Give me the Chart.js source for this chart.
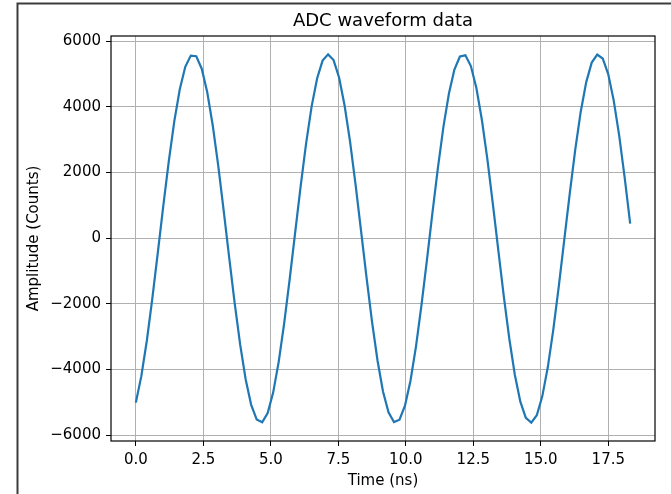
<!DOCTYPE html>
<html>
<head>
<meta charset="utf-8">
<script src="https://cdn.jsdelivr.net/npm/chart.js@4.4.0/dist/chart.umd.min.js"></script>
<style>
  html, body { margin: 0; padding: 0; background: #fff; }
</style>
</head>
<body>
<canvas id="adcChart" width="671" height="494"></canvas>
<script>
// sample times (ns) and ADC counts
const timeNs = [
  0, 0.203, 0.407, 0.610, 0.814, 1.017, 1.221, 1.424, 1.628, 1.831,
  2.035, 2.238, 2.441, 2.645, 2.848, 3.052, 3.255, 3.459, 3.662, 3.866,
  4.069, 4.272, 4.476, 4.679, 4.883, 5.086, 5.290, 5.493, 5.697, 5.900,
  6.104, 6.307, 6.510, 6.714, 6.917, 7.121, 7.324, 7.528, 7.731, 7.935,
  8.138, 8.341, 8.545, 8.748, 8.952, 9.155, 9.359, 9.562, 9.766, 9.969,
  10.173, 10.376, 10.579, 10.783, 10.986, 11.190, 11.393, 11.597, 11.800, 12.004,
  12.207, 12.410, 12.614, 12.817, 13.021, 13.224, 13.428, 13.631, 13.835, 14.038,
  14.242, 14.445, 14.648, 14.852, 15.055, 15.259, 15.462, 15.666, 15.869, 16.073,
  16.276, 16.479, 16.683, 16.886, 17.090, 17.293, 17.497, 17.700, 17.904, 18.107,
  18.311
]
const amplitude = [
  -5010, -4204, -3125, -1844, -443, 985, 2349, 3560, 4538, 5221,
  5563, 5544, 5163, 4446, 3440, 2209, 834, -597, -1988, -3252,
  -4304, -5078, -5521, -5607, -5329, -4705, -3776, -2602, -1259, 165,
  1577, 2886, 4007, 4867, 5410, 5600, 5426, 4898, 4051, 2940,
  1638, 228, -1197, -2545, -3728, -4670, -5308, -5602, -5533, -5104,
  -4345, -3303, -2048, -660, 771, 2150, 3390, 4408, 5138, 5535,
  5570, 5243, 4575, 3608, 2406, 1047, -380, -1784, -3072, -4161,
  -4981, -5477, -5618, -5394, -4820, -3934, -2792, -1470, -52, 1368,
  2698, 3853, 4756, 5350, 5595, 5475, 4999, 4198, 3123, 1844,
  445
]
const xTicks = [0, 2.5, 5, 7.5, 10, 12.5, 15, 17.5]
const yTicks = [-6000, -4000, -2000, 0, 2000, 4000, 6000]

const fontFamily = "'DejaVu Sans', sans-serif"

// rahmen + achsenbox, titel über plotbereich zentrieren
const framePlugin = {
  id: 'frame',
  afterLayout(chart) {
    if (chart.titleBlock) {
      chart.titleBlock.left = chart.chartArea.left
      chart.titleBlock.right = chart.chartArea.right
    }
  },
  afterDraw(chart) {
    const ctx = chart.ctx
    const a = chart.chartArea
    ctx.save()
    ctx.strokeStyle = '#000'
    ctx.lineWidth = 1.2
    ctx.strokeRect(a.left, a.top, a.right - a.left, a.bottom - a.top)
    ctx.strokeStyle = '#3c3c3c'
    ctx.lineWidth = 2
    ctx.beginPath()
    ctx.moveTo(17.5, 494)
    ctx.lineTo(17.5, 3.5)
    ctx.lineTo(671, 3.5)
    ctx.stroke()
    ctx.restore()
  }
}

let points = []
for (let i = 0; i < timeNs.length; i++) {
  points.push({ x: timeNs[i], y: amplitude[i] })
}

new Chart(document.getElementById('adcChart'), {
  type: 'line',
  data: {
    datasets: [
      {
        data: points,
        borderColor: '#1f77b4',
        borderWidth: 2.2,
        pointRadius: 0,
        tension: 0,
        fill: false,
      },
    ],
  },
  options: {
    responsive: false,
    animation: false,
    devicePixelRatio: 1,
    layout: { padding: { left: 0, right: 16, top: 0, bottom: 0 } },
    plugins: {
      legend: { display: false },
      tooltip: { enabled: false },
      title: {
        display: true,
        text: 'ADC waveform data',
        color: '#000',
        font: { family: fontFamily, size: 18, weight: 'normal' },
        padding: { top: 10.4, bottom: 4 },
      },
    },
    scales: {
      x: {
        type: 'linear',
        min: -0.92,
        max: 19.23,
        afterBuildTicks: (s) => {
          s.ticks = xTicks.map((v) => ({ value: v }))
        },
        afterFit: (s) => {
          s.height = 53
        },
        ticks: {
          callback: (v) => Number(v).toFixed(1),
          color: '#000',
          font: { family: fontFamily, size: 15 },
          padding: 5,
          maxRotation: 0,
          autoSkip: false,
        },
        grid: { color: '#b0b0b0', lineWidth: 1, tickColor: '#000', tickLength: 5 },
        border: { display: false },
        title: {
          display: true,
          text: 'Time (ns)',
          color: '#000',
          font: { family: fontFamily, size: 15 },
          padding: { top: 0, bottom: 4 },
        },
      },
      y: {
        type: 'linear',
        min: -6180,
        max: 6160,
        afterBuildTicks: (s) => {
          s.ticks = yTicks.map((v) => ({ value: v }))
        },
        afterFit: (s) => {
          s.width = 111
        },
        ticks: {
          callback: (v) => (v < 0 ? '\u2212' + Math.abs(v) : String(v)),
          color: '#000',
          font: { family: fontFamily, size: 15 },
          padding: 5,
          autoSkip: false,
        },
        grid: { color: '#b0b0b0', lineWidth: 1, tickColor: '#000', tickLength: 5 },
        border: { display: false },
        title: {
          display: true,
          text: 'Amplitude (Counts)',
          color: '#000',
          font: { family: fontFamily, size: 15 },
          padding: { top: 25, bottom: 0 },
        },
      },
    },
  },
  plugins: [framePlugin],
})
</script>
</body>
</html>
